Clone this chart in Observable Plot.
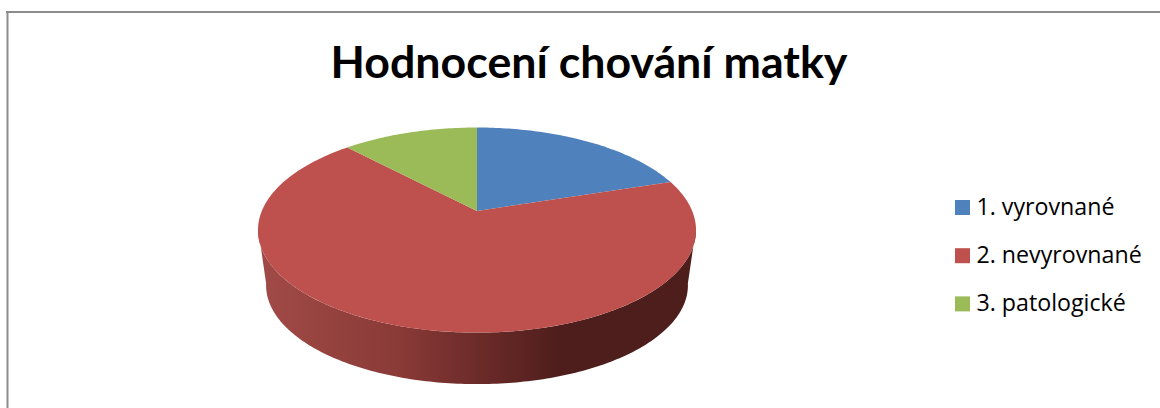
<!DOCTYPE html>
<html>
<head>
<meta charset="utf-8">
<style>html,body{margin:0;padding:0;background:#fff}svg{display:block}</style>
<script src="https://cdn.jsdelivr.net/npm/d3@7"></script>
<script src="https://cdn.jsdelivr.net/npm/@observablehq/plot@0.6"></script>
</head>
<body>
<script>
const titleText = "Hodnocení chování matky";
const categories = ["1. vyrovnané", "2. nevyrovnané", "3. patologické"];
const shares = [20, 68, 12];
const colors = ["#4F81BD", "#BE504D", "#9BBB59"];
const wallStops = [[0, "#A14B47"], [0.32, "#8A3A37"], [0.49, "#6E2C2A"], [0.69, "#4E1E1C"], [1, "#4E1E1C"]];

// Perspective view of the unit disc
const view = {cx: 477, cy: 211, a: 215.2, b: 99, k: 0.186, depth: 56, shrink: 0.963};
function project(turn, lower) {
  const t = turn * 2 * Math.PI, u = Math.sin(t), v = Math.cos(t);
  const s = lower ? view.shrink : 1, d = 1 + view.k * v;
  return {x: view.cx + s * view.a * u / d, y: view.cy + (lower ? view.depth : 0) - s * view.b * v / d};
}
const total = d3.sum(shares);
let running = 0;
const arcPoints = [];
categories.forEach((name, i) => {
  const start = running / total, end = (running + shares[i]) / total;
  running += shares[i];
  const n = Math.ceil((end - start) * 360);
  d3.range(n + 1).forEach(j => arcPoints.push({name, ...project(start + (end - start) * j / n, false)}));
});
const wallPoints = d3.range(0, 181).map(j => {
  const turn = 0.2767 + (0.4466 * j) / 180, top = project(turn, false), low = project(turn, true);
  return {x1: top.x, y1: top.y, x2: low.x, y2: low.y};
});
const legendRows = categories.map((name, i) => ({name, top: 200 + 48.2 * i}));

const wallGradient = () => {
  const ns = "http://www.w3.org/2000/svg";
  const defs = document.createElementNS(ns, "defs");
  const g = document.createElementNS(ns, "linearGradient");
  g.setAttribute("id", "wallShade");
  g.setAttribute("gradientUnits", "userSpaceOnUse");
  g.setAttribute("x1", 258); g.setAttribute("x2", 696);
  g.setAttribute("y1", 0); g.setAttribute("y2", 0);
  wallStops.forEach(([o, c]) => {
    const s = document.createElementNS(ns, "stop");
    s.setAttribute("offset", o); s.setAttribute("stop-color", c);
    g.appendChild(s);
  });
  defs.appendChild(g);
  return defs;
};

const chart = Plot.plot({
  width: 1160, height: 408,
  margin: 0, marginTop: 0, marginRight: 0, marginBottom: 0, marginLeft: 0,
  style: {background: "#fff", fontFamily: "Lato"},
  x: {domain: [0, 1160], range: [0, 1160], axis: null},
  y: {domain: [0, 408], range: [0, 408], axis: null},
  color: {domain: categories, range: colors},
  marks: [
    Plot.ruleY([11.5], {x1: 6, x2: 1160, stroke: "#8C8C8C", strokeWidth: 2}),
    Plot.ruleX([7], {y1: 11, y2: 408, stroke: "#8C8C8C", strokeWidth: 2}),
    wallGradient,
    Plot.area(wallPoints, {x1: "x1", y1: "y1", x2: "x2", y2: "y2", fill: "url(#wallShade)"}),
    Plot.area(arcPoints, {x1: "x", y1: "y", x2: () => view.cx, y2: () => view.cy, z: "name", fill: "name"}),
    Plot.text([titleText], {x: 588.5, y: 77, text: d => d, textAnchor: "middle", lineAnchor: "bottom", fontSize: 44.7, fontWeight: 700, fill: "#000"}),
    Plot.rect(legendRows, {x1: () => 955, x2: () => 970, y1: "top", y2: d => d.top + 15, fill: "name"}),
    Plot.text(legendRows, {x: () => 976, y: d => d.top + 14, text: "name", textAnchor: "start", lineAnchor: "bottom", fontSize: 23.2, fontFamily: "Open Sans", fill: "#000"})
  ]
});
document.body.appendChild(chart);
</script>
</body>
</html>
